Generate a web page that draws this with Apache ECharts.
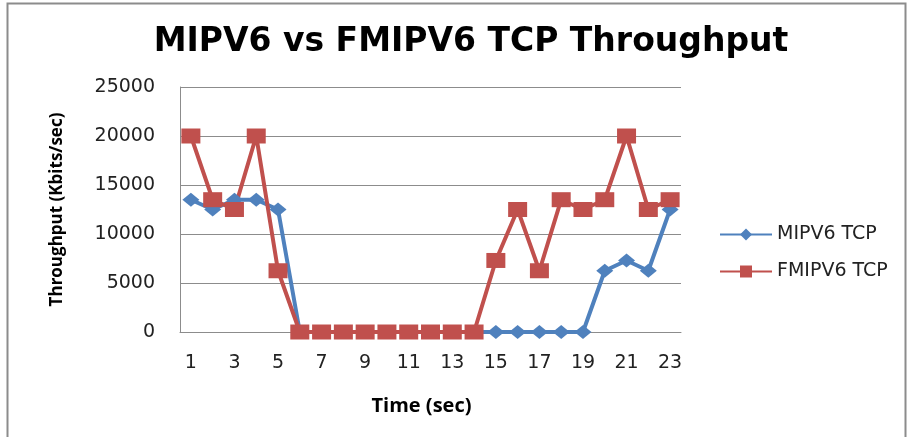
<!DOCTYPE html>
<html><head><meta charset="utf-8">
<script src="https://cdn.jsdelivr.net/npm/echarts@6/dist/echarts.min.js"></script>
<style>html,body{margin:0;padding:0;background:#fff}#c{width:912px;height:437px}</style>
</head><body><div id="c"></div>
<script>
const categories = ['1','2','3','4','5','6','7','8','9','10','11','12','13','14','15','16','17','18','19','20','21','22','23'];
const mipv6 = [13500,12500,13500,13500,12500,0,0,0,0,0,0,0,0,0,0,0,0,0,0,6250,7300,6250,12500];
const fmipv6 = [20000,13500,12500,20000,6250,0,0,0,0,0,0,0,0,0,7300,12500,6250,13500,12500,13500,20000,12500,13500];
const seriesNames = ['MIPV6 TCP','FMIPV6 TCP'];

const chart = echarts.init(document.getElementById('c'));
const wide = '"DejaVu Sans", sans-serif';
const bold = '"Open Sans", "DejaVu Sans", sans-serif';
chart.setOption({
  animation:false,
  title:{text:'MIPV6 vs FMIPV6 TCP Throughput',left:466,textAlign:'center',top:21,
    textStyle:{fontFamily:wide,fontSize:33,fontWeight:'bold',color:'#000'}},
  graphic:[{type:'rect',silent:true,shape:{x:7.5,y:3.5,width:898,height:460},style:{fill:'none',stroke:'#8c8c8c',lineWidth:2}}],
  grid:{left:180,right:231,top:87,bottom:105},
  legend:{orient:'vertical',left:714,top:220,itemGap:18,itemWidth:52,itemHeight:15,
    textStyle:{fontFamily:wide,fontSize:19,color:'#222'},data:seriesNames},
  xAxis:{type:'category',data:categories,boundaryGap:true,
    name:'Time (sec)',nameLocation:'middle',nameGap:64,
    nameTextStyle:{fontFamily:bold,fontSize:20,fontWeight:'bold',color:'#000',padding:[0,18,0,0]},
    axisLine:{lineStyle:{color:'#8c8c8c',width:1}},axisTick:{show:false},
    axisLabel:{interval:1,fontFamily:wide,fontSize:19,color:'#222',margin:22}},
  yAxis:{type:'value',min:0,max:25000,interval:5000,
    name:'Throughput (Kbits/sec)',nameLocation:'middle',nameGap:114,
    nameTextStyle:{fontFamily:bold,fontSize:17,fontWeight:'bold',color:'#000'},
    axisLine:{show:true,lineStyle:{color:'#8c8c8c'}},axisTick:{show:false},
    splitLine:{lineStyle:{color:'#8c8c8c',width:1}},
    axisLabel:{fontFamily:wide,fontSize:19,color:'#222',margin:25,formatter:v=>String(v)}},
  series:[
    {name:seriesNames[0],type:'line',data:mipv6,color:'#4F81BD',symbol:'diamond',symbolSize:[17,14],
      showAllSymbol:true,lineStyle:{width:4},itemStyle:{color:'#4F81BD'}},
    {name:seriesNames[1],type:'line',data:fmipv6,color:'#C0504D',symbol:'rect',symbolSize:[19,15],
      showAllSymbol:true,lineStyle:{width:4},itemStyle:{color:'#C0504D'}}
  ]
});
</script></body></html>
